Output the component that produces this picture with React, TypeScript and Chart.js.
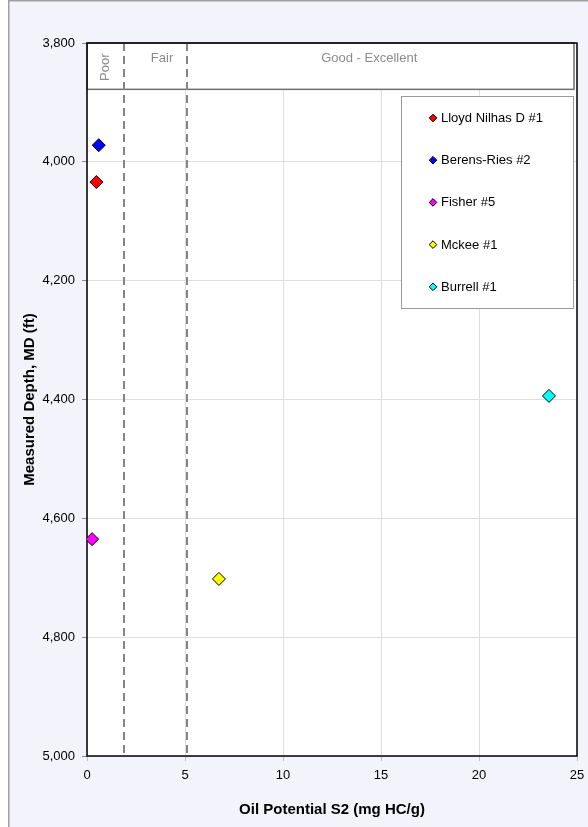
import React, { useEffect, useRef } from "react";
import { Chart, registerables } from "chart.js";

Chart.register(...registerables);

// ---- data ----
const wellNames = ["Lloyd Nilhas D #1", "Berens-Ries #2", "Fisher #5", "Mckee #1", "Burrell #1"];
const s2Values = [0.48, 0.6, 0.26, 6.73, 23.57];
const depthValues = [4034, 3972, 4635, 4702, 4394];
const wellColors = ["#ff0000", "#0000ff", "#ff00ff", "#ffff00", "#00ffff"];

const xTicksMin = 0;
const xTicksMax = 25;
const xStep = 5;
const yTicksMin = 3800;
const yTicksMax = 5000;
const yStep = 200;

const thresholds = [1.9, 5.08];
const bandLabels = ["Poor", "Fair", "Good - Excellent"];
const bandLabelX = [0.95, 3.83, 14.4];
const bandBottomDepth = 3878;

const FONT = "'Liberation Sans', Arial, Helvetica, sans-serif";

const framePlugin = {
  id: "framePlugin",
  beforeDraw(chart: any) {
    const { ctx, width, height } = chart;
    ctx.save();
    ctx.fillStyle = "#f3f3fc";
    ctx.fillRect(0, 0, width, height);
    ctx.strokeStyle = "#a0a0a0";
    ctx.lineWidth = 1.5;
    ctx.beginPath();
    ctx.moveTo(0.75, height);
    ctx.lineTo(0.75, 0.75);
    ctx.lineTo(width, 0.75);
    ctx.stroke();
    const a = chart.chartArea;
    ctx.fillStyle = "#ffffff";
    ctx.fillRect(a.left, a.top, a.right - a.left, a.bottom - a.top);
    ctx.restore();
  },
  beforeDatasetsDraw(chart: any) {
    const { ctx, chartArea: a, scales } = chart;
    const xs = scales.x;
    const ys = scales.y;
    ctx.save();
    // band
    const bandBottom = ys.getPixelForValue(bandBottomDepth);
    ctx.fillStyle = "#ffffff";
    ctx.fillRect(a.left, a.top, a.right - a.left - 3, bandBottom - a.top);
    ctx.strokeStyle = "#6e6e6e";
    ctx.lineWidth = 1.5;
    ctx.strokeRect(a.left, a.top, a.right - a.left - 3, bandBottom - a.top);
    // dashed lines
    ctx.strokeStyle = "#858585";
    ctx.lineWidth = 2;
    ctx.setLineDash([8, 5]);
    thresholds.forEach((t) => {
      const px = Math.round(xs.getPixelForValue(t));
      ctx.beginPath();
      ctx.moveTo(px, a.top);
      ctx.lineTo(px, a.bottom);
      ctx.stroke();
    });
    ctx.setLineDash([]);
    // band labels
    ctx.fillStyle = "#8c8c8c";
    ctx.font = `13px ${FONT}`;
    ctx.textAlign = "center";
    ctx.textBaseline = "middle";
    bandLabels.forEach((lab, i) => {
      const px = xs.getPixelForValue(bandLabelX[i]);
      if (i === 0) {
        ctx.save();
        ctx.translate(px, (a.top + bandBottom) / 2 + 1);
        ctx.rotate(-Math.PI / 2);
        ctx.fillText(lab, 0, 0);
        ctx.restore();
      } else {
        ctx.fillText(lab, px, a.top + 15);
      }
    });
    // plot border
    ctx.strokeStyle = "#000000";
    ctx.lineWidth = 1.5;
    ctx.strokeRect(a.left, a.top, a.right - a.left, a.bottom - a.top);
    ctx.restore();
  },
  afterDatasetsDraw(chart: any) {
    const { ctx } = chart;
    const a = chart.chartArea;
    ctx.save();
    const bx = a.right - 176;
    const by = a.top + 53;
    const bw = 172;
    const bh = 212;
    ctx.fillStyle = "#ffffff";
    ctx.fillRect(bx, by, bw, bh);
    ctx.strokeStyle = "#9a9a9a";
    ctx.lineWidth = 1;
    ctx.strokeRect(bx + 0.5, by + 0.5, bw, bh);
    ctx.font = `13px ${FONT}`;
    ctx.textAlign = "left";
    ctx.textBaseline = "middle";
    chart.data.datasets.forEach((ds: any, i: number) => {
      const cy = by + 22 + i * 42.2;
      const mx = bx + 32;
      const r = 3.8;
      ctx.beginPath();
      ctx.moveTo(mx, cy - r);
      ctx.lineTo(mx + r, cy);
      ctx.lineTo(mx, cy + r);
      ctx.lineTo(mx - r, cy);
      ctx.closePath();
      ctx.fillStyle = ds.backgroundColor;
      ctx.fill();
      ctx.strokeStyle = "#000";
      ctx.lineWidth = 1;
      ctx.stroke();
      ctx.fillStyle = "#000";
      ctx.fillText(ds.label, mx + 8, cy + 0.5);
    });
    ctx.restore();
  },
};

export default function App() {
  const ref = useRef<HTMLCanvasElement>(null);
  useEffect(() => {
    if (!ref.current) return;
    const datasets = wellNames.map((name, i) => ({
      label: name,
      data: [{ x: s2Values[i], y: depthValues[i] }],
      backgroundColor: wellColors[i],
      borderColor: "#000000",
      borderWidth: 1,
      pointStyle: "rectRot" as const,
      pointRadius: 6.5,
      pointHoverRadius: 6.5,
    }));
    const chart = new Chart(ref.current, {
      type: "scatter",
      data: { datasets },
      options: {
        animation: false,
        responsive: false,
        locale: "en-US",
        layout: { padding: { top: 43, right: 2, left: 0, bottom: 0 } },
        plugins: {
          legend: { display: false },
          tooltip: { enabled: false },
        },
        scales: {
          x: {
            type: "linear",
            min: xTicksMin,
            max: xTicksMax,
            ticks: {
              stepSize: xStep,
              color: "#000",
              font: { family: FONT, size: 13 },
              padding: 7,
            },
            grid: { color: "#dedede", tickColor: "#c0c0c0", tickLength: 5, lineWidth: 1 },
            border: { display: false },
            title: {
              display: true,
              text: "Oil Potential S2 (mg HC/g)",
              color: "#000",
              font: { family: FONT, size: 15, weight: "bold" },
              padding: { top: 0, bottom: 8 },
            },
            afterFit: (s: any) => {
              s.height = 71;
              s.paddingRight = 11;
              s.paddingLeft = 0;
            },
          },
          y: {
            type: "linear",
            reverse: true,
            min: yTicksMin,
            max: yTicksMax,
            ticks: {
              stepSize: yStep,
              color: "#000",
              font: { family: FONT, size: 13 },
              padding: 7,
              callback: (v: any) => Number(v).toLocaleString("en-US"),
            },
            grid: { color: "#dedede", tickColor: "#888", tickLength: 5, lineWidth: 1 },
            border: { display: false },
            title: {
              display: true,
              text: "Measured Depth, MD (ft)",
              color: "#000",
              font: { family: FONT, size: 15, weight: "bold" },
              padding: { top: 13, bottom: 0 },
            },
            afterFit: (s: any) => {
              s.width = 79;
              s.paddingTop = 0;
              s.paddingBottom = 0;
            },
          },
        },
      },
      plugins: [framePlugin],
    });
    return () => chart.destroy();
  }, []);
  return (
    <div style={{ position: "absolute", left: 8, top: 0, width: 580, height: 827 }}>
      <canvas ref={ref} width={580} height={827} style={{ display: "block", width: 580, height: 827 }} />
    </div>
  );
}
